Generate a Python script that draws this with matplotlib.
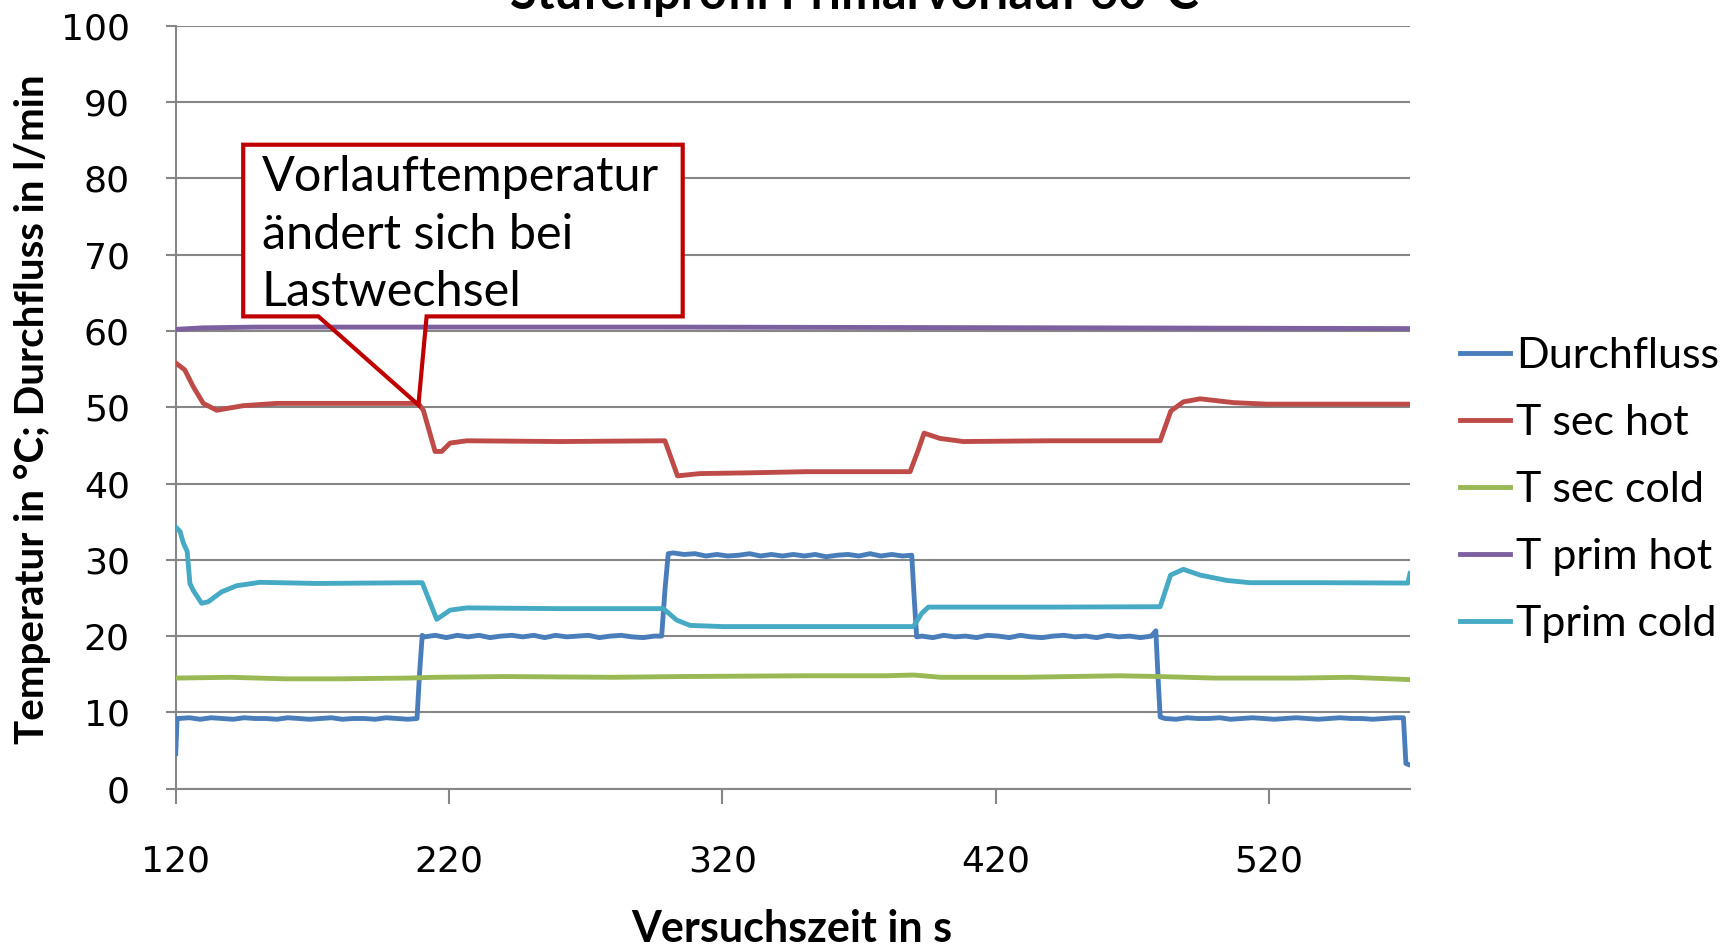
import matplotlib.pyplot as plt
from matplotlib.patches import Polygon

# --- data ---
# Durchfluss (l/min)
flow_t = [120, 120.5, 121, 125, 129, 133, 137, 141, 145, 149, 153, 157, 161, 165, 169, 173, 177, 181, 185, 189,
          193, 197, 201, 205, 208.3, 209.2, 210.2,
          211, 215, 219, 223, 227, 231, 235, 239, 243, 247, 251, 255, 259, 263, 267, 271, 275, 279, 283, 287,
          291, 295, 297.8, 299, 300.2,
          302, 306, 310, 314, 318, 322, 326, 330, 334, 338, 342, 346, 350, 354, 358, 362, 366, 370, 374, 378,
          382, 386, 389.3, 390.2, 391.1,
          393, 397, 401, 405, 409, 413, 417, 421, 425, 429, 433, 437, 441, 445, 449, 453, 457, 461, 465, 469,
          473, 477, 478.6, 479.5, 480.2,
          482, 486, 490, 494, 498, 502, 506, 510, 514, 518, 522, 526, 530, 534, 538, 542, 546, 550, 554, 558,
          562, 566, 569.2, 570.1, 571.6]
flow_v = [4.6, 9.2, 9.2, 9.3, 9.1, 9.3, 9.2, 9.1, 9.3, 9.2, 9.2, 9.1, 9.3, 9.2, 9.1, 9.2, 9.3, 9.1, 9.2, 9.2,
          9.1, 9.3, 9.2, 9.1, 9.2, 15.0, 20.1,
          19.9, 20.1, 19.8, 20.1, 19.9, 20.1, 19.8, 20.0, 20.1, 19.9, 20.1, 19.8, 20.1, 19.9, 20.0, 20.1, 19.8,
          20.0, 20.1, 19.9, 19.8, 20.0, 20.0, 26.0, 30.8,
          30.9, 30.7, 30.8, 30.5, 30.7, 30.5, 30.6, 30.8, 30.5, 30.7, 30.5, 30.7, 30.5, 30.7, 30.4, 30.6, 30.7,
          30.5, 30.8, 30.5, 30.7, 30.5, 30.6, 25.0, 19.9,
          20.0, 19.8, 20.1, 19.9, 20.0, 19.8, 20.1, 20.0, 19.8, 20.1, 19.9, 19.8, 20.0, 20.1, 19.9, 20.0, 19.8,
          20.1, 19.9, 20.0, 19.8, 20.0, 20.7, 14.0, 9.4,
          9.2, 9.1, 9.3, 9.2, 9.2, 9.3, 9.1, 9.2, 9.3, 9.2, 9.1, 9.2, 9.3, 9.2, 9.1, 9.2, 9.3, 9.2, 9.2, 9.1,
          9.2, 9.3, 9.3, 3.3, 3.1]

# T sec hot
sec_hot_t = [120, 123.3, 126.4, 130.1, 135, 144.7, 157, 180, 208.8, 210.6, 214.9, 217.3, 220.4, 226.5, 260.6,
             299, 303.6, 311.8, 330, 350.9, 388.7, 391.7, 393.8, 399.7, 408.2, 440, 480.2, 484.1, 488.7,
             494.8, 507, 519.2, 571.6]
sec_hot_v = [55.8, 54.9, 52.7, 50.5, 49.6, 50.2, 50.5, 50.5, 50.5, 49.6, 44.2, 44.2, 45.3, 45.6, 45.5,
             45.6, 41.0, 41.3, 41.4, 41.55, 41.55, 44.4, 46.6, 45.9, 45.5, 45.6, 45.6, 49.5, 50.7,
             51.1, 50.6, 50.4, 50.4]

# T sec cold
sec_cold_t = [120, 140, 160, 180, 205, 215, 240, 280, 305, 350, 380, 390, 400, 430, 465, 480, 500, 530, 550,
              571.6]
sec_cold_v = [14.5, 14.6, 14.4, 14.4, 14.5, 14.6, 14.7, 14.6, 14.7, 14.8, 14.8, 14.9, 14.6, 14.6, 14.8,
              14.7, 14.5, 14.5, 14.6, 14.3]

# T prim hot
prim_hot_t = [120, 130, 150, 300, 450, 571.6]
prim_hot_v = [60.2, 60.4, 60.5, 60.5, 60.4, 60.3]

# Tprim cold
prim_cold_t = [120, 121.6, 122.8, 124.2, 125.2, 126.4, 129.5, 131.9, 136.8, 142.3, 150.8, 171.6, 209.4,
               210.2, 215.5, 220.4, 226.5, 260, 298.4, 303.3, 308.2, 320, 389.9, 393, 395.4, 400, 440,
               480.2, 484, 488.7, 494.8, 504.5, 513, 540, 570.8, 571.6]
prim_cold_v = [34.3, 33.7, 32.2, 31.1, 26.9, 26.0, 24.3, 24.5, 25.8, 26.6, 27.05, 26.9, 27.0,
               27.0, 22.2, 23.4, 23.7, 23.6, 23.6, 22.1, 21.4, 21.25, 21.25, 23.0, 23.8, 23.8, 23.8,
               23.85, 28.0, 28.75, 28.0, 27.3, 27.0, 27.0, 26.95, 28.2]

series = [
    ("Durchfluss", flow_t, flow_v, "#4A7EBB"),
    ("T sec hot", sec_hot_t, sec_hot_v, "#BE4B48"),
    ("T sec cold", sec_cold_t, sec_cold_v, "#98B954"),
    ("T prim hot", prim_hot_t, prim_hot_v, "#7D60A0"),
    ("Tprim cold", prim_cold_t, prim_cold_v, "#46AAC5"),
]

x_ticks = [120, 220, 320, 420, 520]
y_ticks = [0, 10, 20, 30, 40, 50, 60, 70, 80, 90, 100]

title = "Stufenprofil Primärvorlauf 60°C"
note = "Vorlauftemperatur\nändert sich bei\nLastwechsel"
note_tip = (208.8, 50.3)

calibri = ["Lato", "DejaVu Sans"]
grid_c = "#868686"

fig = plt.figure(figsize=(17.34, 9.47), dpi=100)
ax = fig.add_axes([175.7 / 1734, 1 - 788.7 / 947, (1410 - 175.7) / 1734, (788.7 - 25.7) / 947])

for name, t, v, c in series:
    ax.plot(t, v, color=c, lw=3.5, label=name, zorder=3, solid_joinstyle="round")

ax.set_xlim(120, 571.6)
ax.set_ylim(0, 100)
ax.set_xticks(x_ticks)
ax.set_yticks(y_ticks)
ax.yaxis.grid(True, color=grid_c, lw=1.5)
ax.set_axisbelow(True)
for s in ["top", "right"]:
    ax.spines[s].set_visible(False)
ax.spines["left"].set_color(grid_c)
ax.spines["left"].set_linewidth(1.5)
ax.spines["bottom"].set_color(grid_c)
ax.spines["bottom"].set_linewidth(1.5)
ax.tick_params(axis="x", length=11, width=1.5, color=grid_c, pad=29, labelsize=26)
ax.tick_params(axis="y", length=7, width=1.5, color=grid_c, pad=26, labelsize=26)
for lab in ax.get_xticklabels() + ax.get_yticklabels():
    lab.set_fontfamily("DejaVu Sans")

# callout box (data coords)
bx0, bx1, by0, by1 = 144.7, 305.5, 61.9, 84.4
px0, px1 = 172.2, 211.8
verts = [(bx0, by0), (bx0, by1), (bx1, by1), (bx1, by0), (px1, by0), note_tip, (px0, by0)]
ax.add_patch(Polygon(verts, closed=True, facecolor="white", edgecolor="none", zorder=2, clip_on=False))
ax.add_patch(Polygon(verts, closed=True, facecolor="none", edgecolor="#C00000", lw=3, zorder=4,
                     clip_on=False, joinstyle="miter"))
ax.text(151.5, 83.0, note, fontsize=35, family=calibri, va="top", ha="left", linespacing=1.37, zorder=5)

fig.text(0.4567, 0.019, "Versuchszeit in s", fontsize=31, fontweight="bold", family=calibri,
         ha="center", va="center")
fig.text(0.019, 0.568, "Temperatur in °C; Durchfluss in l/min", fontsize=29, fontweight="bold",
         family=calibri, rotation=90, ha="center", va="center")
fig.text(0.493, 1 - 9 / 947, title, fontsize=35, fontweight="bold", family=calibri,
         ha="center", va="baseline")

leg = ax.legend(loc="center left", bbox_to_anchor=(1443 / 1734, 1 - 490 / 947),
                bbox_transform=fig.transFigure, frameon=False, prop={"family": calibri, "size": 31},
                handlelength=1.15, handletextpad=0.15, labelspacing=0.67, borderaxespad=0)
for h in leg.get_lines():
    h.set_linewidth(3.5)

fig.savefig("out.png", dpi=100)
